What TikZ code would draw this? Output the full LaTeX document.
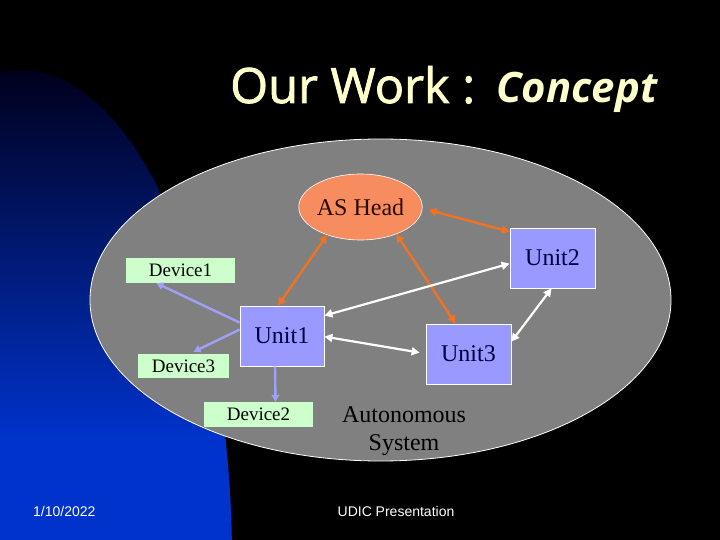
\documentclass[tikz,border=0pt]{standalone}
\usepackage{fontspec}
\setmainfont{Liberation Serif}
\newfontfamily\arialfont{Liberation Sans}
\newfontfamily\titlefont[FakeBold=1.6]{Open Sans}
\newfontfamily\titleboldfont{Open Sans}
\usetikzlibrary{arrows.meta,shapes.geometric}
\definecolor{grayell}{RGB}{128,128,128}
\definecolor{headfill}{RGB}{247,140,94}
\definecolor{unitfill}{RGB}{153,153,255}
\definecolor{devfill}{RGB}{204,255,204}
\definecolor{orangeln}{RGB}{242,114,34}
\definecolor{lavln}{RGB}{160,160,250}
\definecolor{titlecol}{RGB}{255,255,204}
\definecolor{unittext}{RGB}{0,0,64}
\definecolor{headtext}{RGB}{40,10,0}
\definecolor{blueA}{RGB}{0,0,28}
\definecolor{blueB}{RGB}{0,51,204}
\tikzset{
  unitbox/.style={draw=white, line width=0.8pt, fill=unitfill, rectangle, inner sep=0pt,
    text=unittext, font=\fontsize{24}{28}\selectfont},
  devbox/.style={draw=none, fill=devfill, rectangle, inner sep=0pt,
    text=black, font=\fontsize{19}{22}\selectfont},
  headell/.style={draw=white, line width=0.6pt, fill=headfill, ellipse, inner sep=0pt,
    text=headtext, font=\fontsize{24}{28}\selectfont},
  orangearrow/.style={draw=orangeln, line width=2.4pt, {Triangle[length=8pt,width=8pt]}-{Triangle[length=8pt,width=8pt]}},
  whitearrow/.style={draw=white, line width=2.2pt, {Triangle[length=8pt,width=8pt]}-{Triangle[length=8pt,width=8pt]}},
  lavarrow/.style={draw=lavln, line width=2.4pt, -{Triangle[length=7pt,width=7.5pt]}},
  footer/.style={text=white, font=\arialfont\fontsize{14}{16}\selectfont, inner sep=0pt}
}
\begin{document}
\begin{tikzpicture}[x=1pt,y=-1pt]
\useasboundingbox (0,0) rectangle (720,540);
\fill[black] (0,0) rectangle (720,540);
% blue background shape
\begin{scope}
  \clip (0,0) rectangle (720,540);
  \clip (20,560) ellipse [x radius=212, y radius=490];
  \shade[top color=blueA, bottom color=blueB] (0,70) rectangle (240,440);
  \fill[blueB] (0,439) rectangle (240,541);
\end{scope}
% title
\node[anchor=base west, inner sep=0pt, text=titlecol] (t1) at (230,103)
  {\resizebox{245pt}{!}{\titlefont\fontsize{50}{56}\selectfont Our Work :}};
\node[anchor=base west, inner sep=0pt, text=titlecol] (t2) at (496,103)
  {\resizebox{161pt}{!}{\titleboldfont\bfseries\itshape\fontsize{42}{46}\selectfont Concept}};
% system ellipse
\node[draw=white, line width=0.8pt, fill=grayell, ellipse, minimum width=581pt, minimum height=322pt, inner sep=0pt] (as) at (380.5,300) {};
% nodes
\node[headell, minimum width=107pt, minimum height=66pt] (head) at (360.5,207) {AS Head};
\node[unitbox, minimum width=84pt, minimum height=60pt] (u1) at (282,336) {Unit1};
\node[unitbox, minimum width=85pt, minimum height=60pt] (u2) at (552.5,258) {Unit2};
\node[unitbox, minimum width=85pt, minimum height=60pt] (u3) at (468.5,354) {Unit3};
\node[devbox, minimum width=109pt, minimum height=25pt] (d1) at (180.5,270.5) {Device1};
\node[devbox, minimum width=91pt, minimum height=24pt] (d3) at (183.5,366) {Device3};
\node[devbox, minimum width=109pt, minimum height=25pt] (d2) at (258.5,414.5) {Device2};
\node[align=center, inner sep=0pt, font=\fontsize{24}{28}\selectfont, text=black] (lbl) at (404,431) {Autonomous\\System};
% orange arrows
\draw[orangearrow] (head.220) -- ([xshift=-4pt]u1.north);
\draw[orangearrow] (head.323) -- ([xshift=-13pt]u3.north);
\draw[orangearrow] ([shift={(6pt,-3pt)}]head.east) -- ([yshift=-4pt]u2.north west);
% white arrows
\draw[whitearrow] ([yshift=-10pt]u1.north east) -- ([yshift=-36pt]u2.north west);
\draw[whitearrow] ([yshift=-31pt]u1.north east) -- ([shift={(-6pt,-29pt)}]u3.north west);
\draw[whitearrow] ([xshift=-1pt]u2.south) -- ([yshift=-18pt]u3.north east);
% lavender arrows
\draw[lavarrow] ([yshift=-17pt]u1.north west) -- ([xshift=-24pt]d1.south);
\draw[lavarrow] ([yshift=-24pt]u1.north west) -- ([shift={(10pt,2pt)}]d3.north);
\draw[lavarrow] ([xshift=-7pt]u1.south) -- ([xshift=17pt]d2.north);
% footer
\node[footer, anchor=base west] (date) at (33,516) {1/10/2022};
\node[footer, anchor=base] (pres) at (396,516) {UDIC Presentation};
\end{tikzpicture}
\end{document}
